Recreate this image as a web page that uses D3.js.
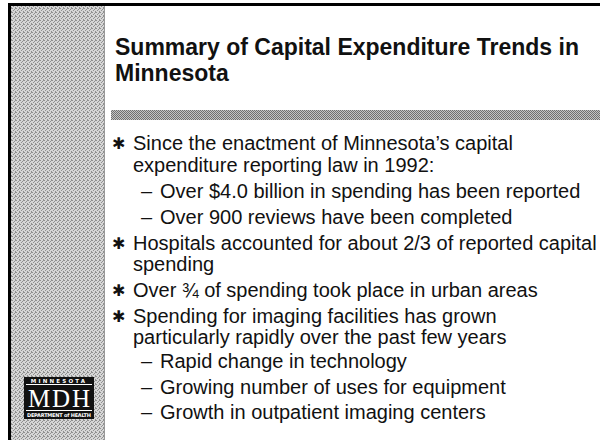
<!DOCTYPE html>
<html>
<head>
<meta charset="utf-8">
<script src="https://cdn.jsdelivr.net/npm/d3@7"></script>
<style>
body { margin: 0; background: #fff; }
svg { display: block; }
</style>
</head>
<body>
<script>
// slide content
const titleLines = ["Summary of Capital Expenditure Trends in", "Minnesota"];
const lineText = [
	"Since the enactment of Minnesota\u2019s capital",
	"expenditure reporting law in 1992:",
	"Over $4.0 billion in spending has been reported",
	"Over 900 reviews have been completed",
	"Hospitals accounted for about 2/3 of reported capital",
	"spending",
	"Over \u00be of spending took place in urban areas",
	"Spending for imaging facilities has grown",
	"particularly rapidly over the past few years",
	"Rapid change in technology",
	"Growing number of uses for equipment",
	"Growth in outpatient imaging centers"
];
// 0 = bullet, 1 = continuation, 2 = sub item
const lineKind = [0, 1, 2, 2, 0, 1, 0, 0, 1, 2, 2, 2];
const lineBase = [150, 172, 198, 224, 250, 271, 297, 323, 344, 368, 394, 419];

const width = 600, height = 440;
const svg = d3.select("body").append("svg")
	.attr("width", width)
	.attr("height", height);

// dithered fills
const defs = svg.append("defs");
const pat = defs.append("pattern")
	.attr("id", "dither")
	.attr("width", 4).attr("height", 4)
	.attr("patternUnits", "userSpaceOnUse");
pat.append("rect").attr("width", 4).attr("height", 4).attr("fill", "#d6d6d6");
[[0, 0], [2, 1], [1, 2], [3, 3], [3, 0]].forEach(p => {
	pat.append("rect").attr("x", p[0]).attr("y", p[1])
		.attr("width", 1).attr("height", 1).attr("fill", "#909090");
});
const pat2 = defs.append("pattern")
	.attr("id", "dither2")
	.attr("width", 4).attr("height", 2)
	.attr("patternUnits", "userSpaceOnUse");
pat2.append("rect").attr("width", 4).attr("height", 2).attr("fill", "#c4c4c4");
[[0, 0], [2, 0], [1, 1], [3, 1]].forEach(p => {
	pat2.append("rect").attr("x", p[0]).attr("y", p[1])
		.attr("width", 1).attr("height", 1).attr("fill", "#707070");
});

// left strip and frame
svg.append("rect")
	.attr("x", 10).attr("y", 5)
	.attr("width", 95).attr("height", height - 5)
	.attr("fill", "url(#dither)");
svg.append("rect")
	.attr("x", 104).attr("y", 5)
	.attr("width", 1).attr("height", height - 5)
	.attr("fill", "#999");
svg.append("rect")
	.attr("x", 8).attr("y", 3)
	.attr("width", width - 8).attr("height", 3)
	.attr("fill", "#000");
svg.append("rect")
	.attr("x", 8).attr("y", 3)
	.attr("width", 3).attr("height", height - 3)
	.attr("fill", "#000");

// title
svg.selectAll(".title")
	.data(titleLines)
	.enter().append("text")
		.attr("class", "title")
		.attr("x", 115)
		.attr("y", (d, i) => 55 + i * 26)
		.attr("font-family", "Liberation Sans, Arial, sans-serif")
		.attr("font-weight", "bold")
		.attr("font-size", 23)
		.attr("fill", "#111")
		.text(d => d);

// separator band
svg.append("rect")
	.attr("x", 111).attr("y", 110)
	.attr("width", width - 111).attr("height", 10)
	.attr("fill", "url(#dither2)");

// body lines
const indent = {0: 133, 1: 133, 2: 160};
const g = svg.append("g")
	.attr("font-family", "Liberation Sans, Arial, sans-serif")
	.attr("fill", "#111");

g.selectAll(".line")
	.data(lineText)
	.enter().append("text")
		.attr("class", "line")
		.attr("x", (d, i) => indent[lineKind[i]])
		.attr("y", (d, i) => lineBase[i])
		.attr("font-size", 20)
		.text(d => d);

g.selectAll(".mark")
	.data(lineText.map((d, i) => i).filter(i => lineKind[i] != 1))
	.enter().append("text")
		.attr("class", "mark")
		.attr("x", i => lineKind[i] == 0 ? 112 : 141)
		.attr("y", i => lineBase[i] - (lineKind[i] == 0 ? 1 : 0))
		.attr("font-family", i => lineKind[i] == 0 ? "DejaVu Sans" : "Liberation Sans, Arial, sans-serif")
		.attr("font-size", i => lineKind[i] == 0 ? 16 : 20)
		.text(i => lineKind[i] == 0 ? "\u2731" : "\u2013");

// MDH logo
const logo = svg.append("g").attr("transform", "translate(24,377)");
logo.append("rect").attr("width", 70).attr("height", 42).attr("fill", "#111");
logo.append("rect").attr("x", 2).attr("y", 7).attr("width", 66).attr("height", 1).attr("fill", "#fff");
logo.append("rect").attr("x", 2).attr("y", 33).attr("width", 66).attr("height", 1).attr("fill", "#fff");
logo.append("text")
	.attr("x", 35).attr("y", 6)
	.attr("text-anchor", "middle")
	.attr("font-family", "DejaVu Sans")
	.attr("font-weight", "bold")
	.attr("font-size", 5.5)
	.attr("letter-spacing", 2.2)
	.attr("fill", "#fff")
	.text("MINNESOTA");
logo.append("text")
	.attr("x", 35).attr("y", 30)
	.attr("text-anchor", "middle")
	.attr("font-family", "Liberation Serif, serif")
	.attr("font-size", 25)
	.attr("textLength", 62)
	.attr("fill", "#fff")
	.text("MDH");
logo.append("text")
	.attr("x", 35).attr("y", 40)
	.attr("text-anchor", "middle")
	.attr("font-family", "DejaVu Sans")
	.attr("font-weight", "bold")
	.attr("font-size", 5)
	.attr("textLength", 64)
	.attr("fill", "#fff")
	.text("DEPARTMENT of HEALTH");
</script>
</body>
</html>
